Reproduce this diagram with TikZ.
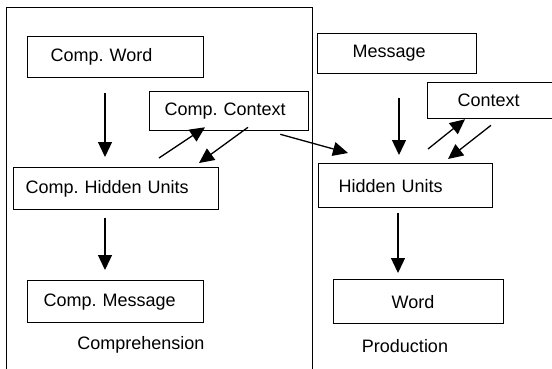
\documentclass[tikz,border=0pt]{standalone}
\usepackage{fontspec}
\setmainfont{Liberation Sans}
\frenchspacing
\usetikzlibrary{arrows.meta}
\tikzset{
  box/.style={draw, line width=1.3pt, anchor=north west, inner ysep=0pt, align=left,
    font=\fontsize{18}{21}\selectfont},
  arr/.style={line width=1.3pt, -{Triangle[length=15pt,width=14pt]}},
  lbl/.style={font=\fontsize{18}{21}\selectfont, inner sep=0pt},
  frame/.style={line width=1pt}
}
\newcommand{\bx}[7]{\node[box, minimum height=#5pt, inner xsep=#6pt, text width={#4pt-2*#6pt}] (#1) at (#2,#3) {#7};}
\begin{document}
\begin{tikzpicture}[x=1pt,y=-1pt]
\useasboundingbox (0,0) rectangle (552,368);
\draw[frame] (6,370) -- (6,7) -- (312,7) -- (312,370);
\bx{cw}{27}{36}{176}{41}{23}{Comp. Word}
\bx{cc}{149}{91}{159}{39}{15}{Comp. Context}
\bx{chu}{13}{167}{205}{42}{12}{Comp. Hidden Units}
\bx{cm}{27}{280}{176}{42}{16}{Comp. Message}
\bx{msg}{317}{33}{159}{40}{35}{Message}
\bx{ctx}{427}{82}{126}{36}{30}{Context}
\bx{hu}{318}{163}{174}{44}{20}{Hidden Units}
\bx{wd}{333}{279}{170}{44}{58}{Word}
\node[lbl] (comp) at (141,345) {Comprehension};
\node[lbl] (prod) at (405,346) {Production};
% vertical arrows
\draw[arr] ([shift={(78,15)}]cw.south west) -- ([shift={(92,-10)}]chu.north west);
\draw[arr] ([shift={(92,8)}]chu.south west) -- ([shift={(78,-10)}]cm.north west);
\draw[arr] ([shift={(82,24)}]msg.south west) -- ([shift={(81,-8)}]hu.north west);
\draw[arr] ([shift={(80,5)}]hu.south west) -- ([shift={(65,-6)}]wd.north west);
% diagonal arrows
\draw[arr] ([shift={(146,-9)}]chu.north west) -- ([shift={(56,-4)}]cc.south west);
\draw[arr] ([shift={(99,-4)}]cc.south west) -- ([shift={(186,-4)}]chu.north west);
\draw[arr] ([shift={(-29,3)}]cc.south east) -- ([shift={(30,-10)}]hu.north west);
\draw[arr] ([shift={(110,-14)}]hu.north west) -- ([shift={(38,0)}]ctx.south west);
\draw[arr] ([shift={(64,6)}]ctx.south west) -- ([shift={(130,-4)}]hu.north west);
\end{tikzpicture}
\end{document}
